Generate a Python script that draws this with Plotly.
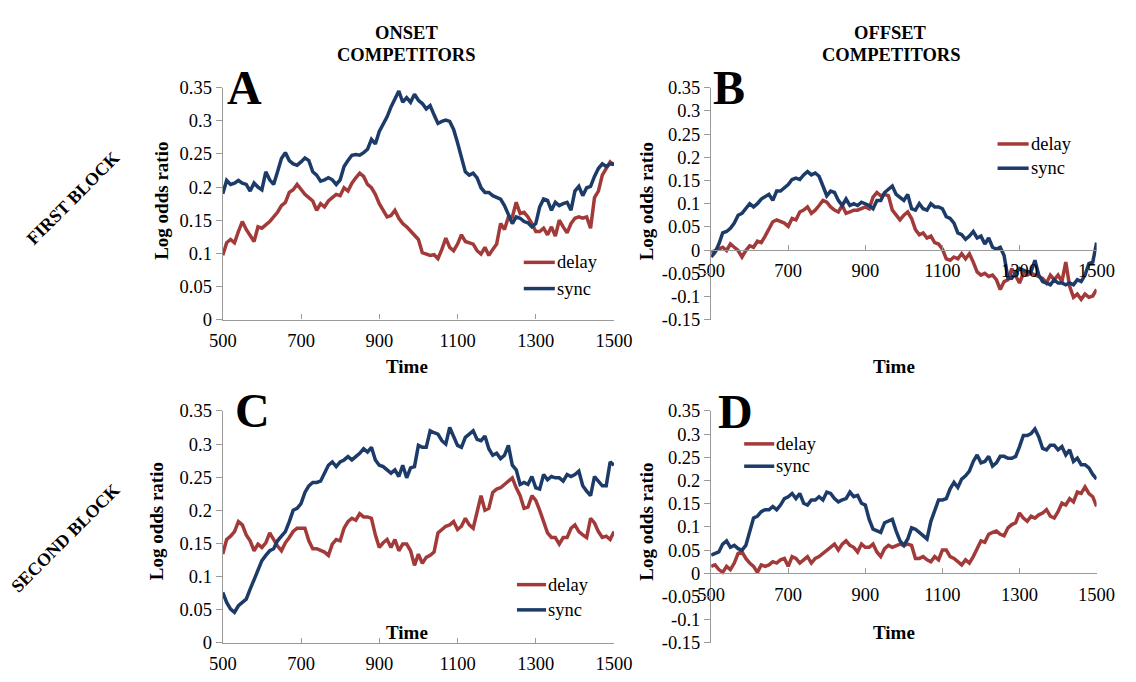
import plotly.graph_objects as go

# ---------------------------------------------------------------- data
time = list(range(500, 1501, 10))

onset_first_delay = [
    0.097, 0.116, 0.121, 0.116, 0.133, 0.148, 0.136, 0.128, 0.118, 0.140,
    0.138, 0.143, 0.148, 0.155, 0.162, 0.172, 0.177, 0.192, 0.196, 0.204,
    0.196, 0.189, 0.184, 0.179, 0.165, 0.175, 0.170, 0.179, 0.184, 0.189,
    0.187, 0.199, 0.194, 0.206, 0.214, 0.221, 0.216, 0.204, 0.199, 0.189,
    0.175, 0.165, 0.155, 0.157, 0.165, 0.153, 0.145, 0.140, 0.133, 0.126,
    0.121, 0.101, 0.099, 0.097, 0.098, 0.092, 0.106, 0.123, 0.109, 0.104,
    0.114, 0.128, 0.118, 0.116, 0.114, 0.104, 0.099, 0.109, 0.097, 0.106,
    0.114, 0.145, 0.136, 0.155, 0.155, 0.177, 0.160, 0.162, 0.155, 0.145,
    0.133, 0.133, 0.138, 0.128, 0.140, 0.126, 0.150, 0.140, 0.131, 0.145,
    0.153, 0.155, 0.153, 0.155, 0.138, 0.184, 0.194, 0.218, 0.228, 0.238,
    0.233,
]
onset_first_sync = [
    0.190, 0.210, 0.204, 0.206, 0.210, 0.206, 0.204, 0.194, 0.206, 0.200,
    0.196, 0.223, 0.211, 0.204, 0.223, 0.243, 0.252, 0.240, 0.235, 0.233,
    0.238, 0.244, 0.240, 0.223, 0.218, 0.209, 0.211, 0.214, 0.211, 0.204,
    0.211, 0.231, 0.240, 0.248, 0.249, 0.248, 0.252, 0.257, 0.272, 0.265,
    0.284, 0.294, 0.306, 0.321, 0.333, 0.345, 0.328, 0.335, 0.328, 0.340,
    0.331, 0.326, 0.318, 0.323, 0.309, 0.296, 0.299, 0.301, 0.299, 0.287,
    0.267, 0.243, 0.223, 0.218, 0.221, 0.214, 0.199, 0.192, 0.192, 0.187,
    0.184, 0.182, 0.172, 0.160, 0.145, 0.155, 0.153, 0.148, 0.146, 0.140,
    0.145, 0.170, 0.182, 0.180, 0.165, 0.177, 0.172, 0.175, 0.177, 0.165,
    0.194, 0.201, 0.187, 0.199, 0.201, 0.216, 0.228, 0.235, 0.231, 0.235,
    0.235,
]

offset_first_delay = [
    -0.005, -0.001, 0.002, 0.006, -0.001, 0.013, 0.006, -0.001, -0.015, -0.001,
    0.009, 0.006, 0.019, 0.016, 0.030, 0.044, 0.061, 0.065, 0.061, 0.058,
    0.051, 0.068, 0.065, 0.082, 0.086, 0.093, 0.079, 0.086, 0.096, 0.107,
    0.103, 0.093, 0.086, 0.082, 0.096, 0.079, 0.082, 0.086, 0.086, 0.089,
    0.093, 0.089, 0.114, 0.124, 0.117, 0.120, 0.117, 0.086, 0.075, 0.065,
    0.075, 0.082, 0.068, 0.044, 0.033, 0.037, 0.026, 0.030, 0.016, 0.013,
    0.002, -0.019, -0.022, -0.015, -0.019, -0.008, -0.019, -0.008, -0.026, -0.047,
    -0.054, -0.050, -0.057, -0.054, -0.064, -0.085, -0.068, -0.064, -0.040, -0.054,
    -0.071, -0.050, -0.054, -0.050, -0.054, -0.057, -0.061, -0.071, -0.054, -0.064,
    -0.054, -0.068, -0.026, -0.078, -0.102, -0.095, -0.106, -0.095, -0.102, -0.099,
    -0.085,
]
offset_first_sync = [
    -0.015, -0.005, 0.013, 0.037, 0.040, 0.047, 0.058, 0.075, 0.079, 0.089,
    0.100, 0.093, 0.100, 0.110, 0.114, 0.120, 0.107, 0.127, 0.127, 0.134,
    0.141, 0.152, 0.155, 0.152, 0.162, 0.169, 0.162, 0.166, 0.159, 0.138,
    0.117, 0.127, 0.124, 0.107, 0.096, 0.110, 0.096, 0.100, 0.096, 0.103,
    0.100, 0.096, 0.089, 0.107, 0.107, 0.124, 0.131, 0.138, 0.120, 0.114,
    0.107, 0.120, 0.089, 0.086, 0.100, 0.089, 0.086, 0.100, 0.093, 0.093,
    0.089, 0.072, 0.068, 0.058, 0.037, 0.033, 0.023, 0.030, 0.040, 0.026,
    0.030, 0.013, 0.026, 0.006, 0.002, 0.006, -0.012, -0.061, -0.061, -0.050,
    -0.040, -0.043, -0.047, -0.047, -0.022, -0.054, -0.068, -0.071, -0.075, -0.064,
    -0.071, -0.071, -0.075, -0.071, -0.075, -0.064, -0.068, -0.054, -0.029, -0.026,
    0.016,
]

onset_second_delay = [
    0.134, 0.156, 0.161, 0.168, 0.183, 0.178, 0.163, 0.154, 0.139, 0.149,
    0.144, 0.151, 0.166, 0.156, 0.146, 0.139, 0.151, 0.159, 0.168, 0.173,
    0.173, 0.173, 0.154, 0.142, 0.142, 0.139, 0.137, 0.132, 0.149, 0.156,
    0.154, 0.173, 0.183, 0.188, 0.185, 0.195, 0.190, 0.190, 0.188, 0.163,
    0.144, 0.151, 0.156, 0.144, 0.156, 0.139, 0.149, 0.149, 0.139, 0.117,
    0.134, 0.120, 0.129, 0.132, 0.137, 0.166, 0.171, 0.176, 0.178, 0.183,
    0.171, 0.176, 0.188, 0.178, 0.173, 0.198, 0.222, 0.200, 0.203, 0.227,
    0.232, 0.234, 0.239, 0.244, 0.249, 0.234, 0.222, 0.203, 0.205, 0.222,
    0.215, 0.200, 0.183, 0.166, 0.159, 0.159, 0.149, 0.159, 0.159, 0.173,
    0.178, 0.168, 0.163, 0.159, 0.188, 0.181, 0.168, 0.159, 0.161, 0.156,
    0.168,
]
onset_second_sync = [
    0.076, 0.061, 0.051, 0.046, 0.056, 0.061, 0.066, 0.081, 0.095, 0.110,
    0.124, 0.132, 0.139, 0.142, 0.154, 0.161, 0.168, 0.183, 0.200, 0.203,
    0.210, 0.227, 0.237, 0.242, 0.242, 0.244, 0.256, 0.268, 0.273, 0.266,
    0.273, 0.276, 0.281, 0.276, 0.281, 0.286, 0.293, 0.288, 0.295, 0.276,
    0.268, 0.266, 0.261, 0.256, 0.261, 0.251, 0.268, 0.249, 0.264, 0.266,
    0.298, 0.295, 0.295, 0.320, 0.317, 0.315, 0.305, 0.300, 0.325, 0.312,
    0.298, 0.295, 0.310, 0.315, 0.320, 0.307, 0.305, 0.312, 0.293, 0.283,
    0.286, 0.278, 0.283, 0.298, 0.268, 0.261, 0.239, 0.242, 0.239, 0.251,
    0.234, 0.232, 0.254, 0.246, 0.251, 0.249, 0.249, 0.244, 0.254, 0.251,
    0.254, 0.259, 0.237, 0.229, 0.222, 0.251, 0.244, 0.237, 0.237, 0.273,
    0.268,
]

offset_second_delay = [
    0.015, 0.018, 0.008, 0.002, 0.015, 0.008, 0.022, 0.043, 0.046, 0.032,
    0.022, 0.015, 0.002, 0.018, 0.015, 0.018, 0.025, 0.022, 0.029, 0.032,
    0.015, 0.036, 0.032, 0.022, 0.029, 0.036, 0.022, 0.032, 0.036, 0.043,
    0.050, 0.056, 0.063, 0.050, 0.063, 0.070, 0.060, 0.056, 0.046, 0.063,
    0.056, 0.056, 0.063, 0.046, 0.036, 0.053, 0.060, 0.056, 0.060, 0.063,
    0.060, 0.063, 0.060, 0.032, 0.032, 0.036, 0.029, 0.025, 0.036, 0.029,
    0.050, 0.050, 0.036, 0.032, 0.025, 0.018, 0.029, 0.022, 0.036, 0.053,
    0.070, 0.067, 0.084, 0.088, 0.091, 0.084, 0.081, 0.098, 0.105, 0.109,
    0.130, 0.119, 0.112, 0.123, 0.119, 0.126, 0.130, 0.137, 0.123, 0.119,
    0.133, 0.151, 0.147, 0.161, 0.154, 0.175, 0.172, 0.186, 0.172, 0.165,
    0.144,
]
offset_second_sync = [
    0.039, 0.043, 0.046, 0.063, 0.070, 0.056, 0.060, 0.053, 0.050, 0.060,
    0.091, 0.119, 0.123, 0.133, 0.137, 0.137, 0.144, 0.137, 0.147, 0.161,
    0.165, 0.172, 0.161, 0.172, 0.151, 0.147, 0.158, 0.158, 0.165, 0.158,
    0.175, 0.172, 0.161, 0.154, 0.158, 0.161, 0.175, 0.165, 0.168, 0.151,
    0.147, 0.116, 0.095, 0.091, 0.088, 0.109, 0.112, 0.116, 0.091, 0.070,
    0.060, 0.074, 0.098, 0.095, 0.088, 0.081, 0.074, 0.112, 0.137, 0.158,
    0.158, 0.161, 0.182, 0.196, 0.185, 0.203, 0.210, 0.220, 0.241, 0.255,
    0.238, 0.241, 0.252, 0.231, 0.238, 0.252, 0.252, 0.248, 0.248, 0.252,
    0.273, 0.297, 0.297, 0.301, 0.311, 0.294, 0.269, 0.266, 0.276, 0.276,
    0.266, 0.273, 0.255, 0.266, 0.241, 0.248, 0.234, 0.234, 0.227, 0.213,
    0.203,
]

x_ticks = [500, 700, 900, 1100, 1300, 1500]
y_ticks_pos = [0, 0.05, 0.1, 0.15, 0.2, 0.25, 0.3, 0.35]
y_labels_pos = ["0", "0.05", "0.1", "0.15", "0.2", "0.25", "0.3", "0.35"]
y_ticks_full = [-0.15, -0.1, -0.05] + y_ticks_pos
y_labels_full = ["-0.15", "-0.1", "-0.05"] + y_labels_pos

series_names = ["delay", "sync"]
panel_letters = ["A", "B", "C", "D"]
column_titles = [["ONSET", "COMPETITORS"], ["OFFSET", "COMPETITORS"]]
row_titles = ["FIRST BLOCK", "SECOND BLOCK"]
y_title = "Log odds ratio"
x_title = "Time"

# ---------------------------------------------------------------- style
W, H = 1136, 682
SERIF = "Liberation Serif"
RED = "#a33a3a"
BLUE = "#1c3b68"
AXIS_GRAY = "#9a9a9a"
LINE_W = 3.5
TICK_SIZE = 18.5
LABEL_SIZE = 19


def px(x):
    return x / W


def py(y):
    return 1 - y / H


# per-panel geometry in pixels
panels = [
    dict(x0=215, x1=618, top=80, bottom=319, yr=[0, 0.35], neg=False,
         delay=onset_first_delay, sync=onset_first_sync,
         letter=(237, 80), ylab=(152, 197), xlab=(405, 367),
         legend=(525, 557, 260, 287)),
    dict(x0=718, x1=1115, top=80, bottom=319, yr=[-0.15, 0.35], neg=True,
         delay=offset_first_delay, sync=offset_first_sync,
         letter=(736, 80), ylab=(651, 197), xlab=(906, 367),
         legend=(1013, 1045, 138, 163)),
    dict(x0=215, x1=618, top=413, bottom=652, yr=[0, 0.35], neg=False,
         delay=onset_second_delay, sync=onset_second_sync,
         letter=(246, 413), ylab=(147, 527), xlab=(405, 641),
         legend=(518, 548, 592, 618)),
    dict(x0=718, x1=1115, top=413, bottom=652, yr=[-0.15, 0.35], neg=True,
         delay=offset_second_delay, sync=offset_second_sync,
         letter=(743, 414), ylab=(651, 527), xlab=(906, 641),
         legend=(752, 783, 447, 470)),
]

fig = go.Figure()
layout = dict(
    width=W, height=H,
    margin=dict(l=0, r=0, t=0, b=0),
    paper_bgcolor="white", plot_bgcolor="white",
    showlegend=False,
    font=dict(family=SERIF, color="black", size=TICK_SIZE),
)
annotations = []
shapes = []

for i, p in enumerate(panels):
    n = "" if i == 0 else str(i + 1)
    xa, ya = "x" + n, "y" + n
    ydom = [py(p["bottom"]), py(p["top"])]

    for name, vals, col in zip(series_names, [p["delay"], p["sync"]], [RED, BLUE]):
        fig.add_trace(go.Scatter(
            x=time, y=vals, mode="lines", name=name,
            line=dict(color=col, width=LINE_W),
            xaxis=xa, yaxis=ya, showlegend=False,
        ))

    xaxis = dict(
        domain=[px(p["x0"]), px(p["x1"])], range=[500, 1500],
        tickvals=x_ticks, ticktext=[str(t) for t in x_ticks],
        showline=True, linecolor=AXIS_GRAY, linewidth=1.3,
        ticks="inside", ticklen=5, tickcolor=AXIS_GRAY, tickwidth=1.3,
        showgrid=False, zeroline=False,
        tickfont=dict(family=SERIF, size=TICK_SIZE, color="black"),
        ticklabelstandoff=4,
    )
    if p["neg"]:
        # horizontal axis crosses the vertical one at zero
        lo, hi = p["yr"]
        frac = (0 - lo) / (hi - lo)
        xaxis.update(anchor="free", position=ydom[0] + frac * (ydom[1] - ydom[0]))
        yvals, ylabels = y_ticks_full, y_labels_full
    else:
        xaxis.update(anchor=ya)
        yvals, ylabels = y_ticks_pos, y_labels_pos

    yaxis = dict(
        domain=ydom, range=p["yr"], anchor=xa,
        tickvals=yvals, ticktext=ylabels,
        showline=True, linecolor=AXIS_GRAY, linewidth=1.3,
        ticks="outside", ticklen=6, tickcolor=AXIS_GRAY, tickwidth=1.3,
        showgrid=False, zeroline=False,
        tickfont=dict(family=SERIF, size=TICK_SIZE, color="black"),
    )
    layout["xaxis" + n] = xaxis
    layout["yaxis" + n] = yaxis

    # panel letter
    lx, ly = p["letter"]
    annotations.append(dict(
        x=px(lx), y=py(ly), xref="paper", yref="paper", text="<b>%s</b>" % panel_letters[i],
        showarrow=False, xanchor="center", yanchor="middle",
        font=dict(family=SERIF, size=48, color="black"),
    ))
    # axis titles
    tx, ty = p["ylab"]
    annotations.append(dict(
        x=px(tx), y=py(ty), xref="paper", yref="paper", text="<b>%s</b>" % y_title,
        showarrow=False, textangle=-90, xanchor="center", yanchor="middle",
        font=dict(family=SERIF, size=LABEL_SIZE, color="black"),
    ))
    tx, ty = p["xlab"]
    annotations.append(dict(
        x=px(tx), y=py(ty), xref="paper", yref="paper", text="<b>%s</b>" % x_title,
        showarrow=False, xanchor="center", yanchor="middle",
        font=dict(family=SERIF, size=LABEL_SIZE, color="black"),
    ))
    # legend entries
    lx0, lx1, ly_d, ly_s = p["legend"]
    for name, col, yy in zip(series_names, [RED, BLUE], [ly_d, ly_s]):
        shapes.append(dict(
            type="line", xref="paper", yref="paper",
            x0=px(lx0), x1=px(lx1), y0=py(yy), y1=py(yy),
            line=dict(color=col, width=LINE_W),
        ))
        annotations.append(dict(
            x=px(lx1), y=py(yy), xref="paper", yref="paper", text=name,
            showarrow=False, xanchor="left", yanchor="middle",
            font=dict(family=SERIF, size=TICK_SIZE, color="black"),
        ))

# column headers
for (line1, line2), cx in zip(column_titles, [404, 903]):
    for txt, cy in zip([line1, line2], [24, 46]):
        annotations.append(dict(
            x=px(cx), y=py(cy), xref="paper", yref="paper", text="<b>%s</b>" % txt,
            showarrow=False, xanchor="center", yanchor="middle",
            font=dict(family=SERIF, size=18.5, color="black"),
        ))

# row headers
for txt, (cx, cy) in zip(row_titles, [(61, 194), (53, 544)]):
    annotations.append(dict(
        x=px(cx), y=py(cy), xref="paper", yref="paper", text="<b>%s</b>" % txt,
        showarrow=False, textangle=-45, xanchor="center", yanchor="middle",
        font=dict(family=SERIF, size=18, color="black"),
    ))

layout["annotations"] = annotations
layout["shapes"] = shapes
fig.update_layout(**layout)
fig.write_html("out.html")
